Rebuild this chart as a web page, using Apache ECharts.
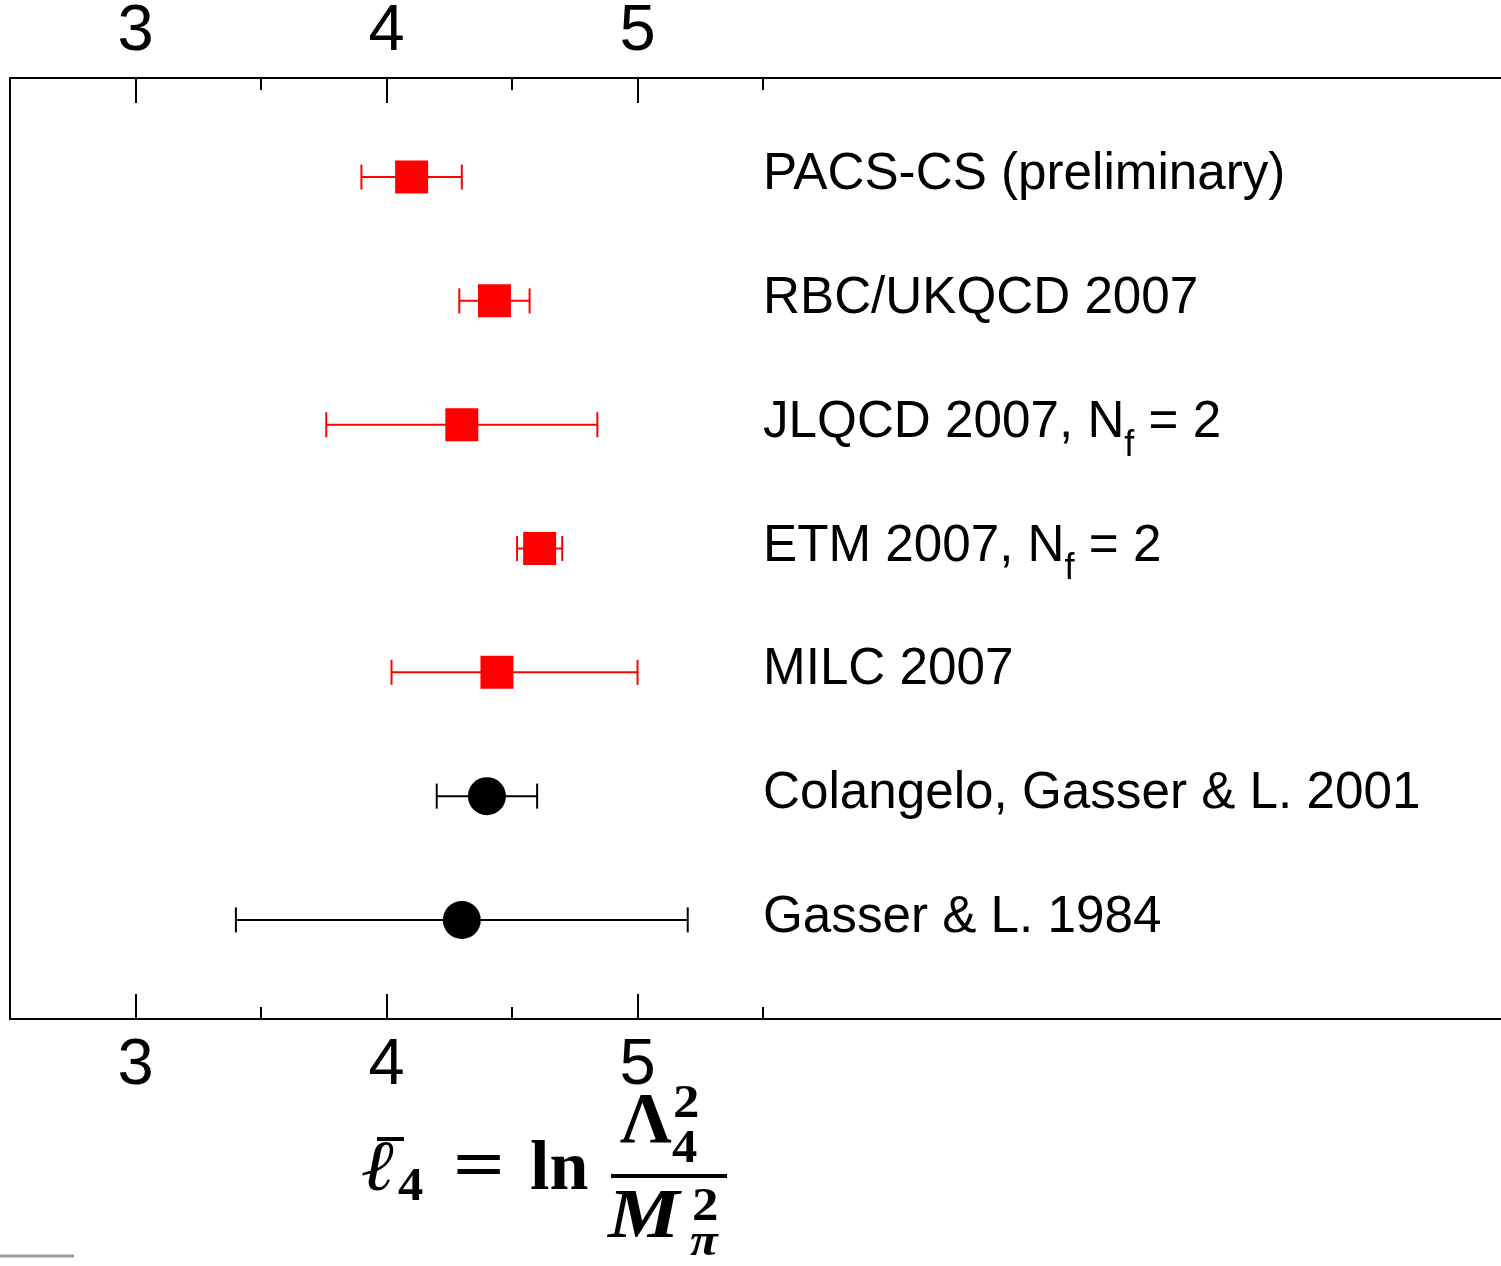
<!DOCTYPE html>
<html>
<head>
<meta charset="utf-8">
<script src="https://cdn.jsdelivr.net/npm/echarts@6/dist/echarts.min.js"></script>
<style>
html,body{margin:0;padding:0;background:#fff;}
#chart{width:1501px;height:1266px;}
</style>
</head>
<body>
<div id="chart"></div>
<script>
// ---- data ----
const labels = [
  'PACS-CS (preliminary)',
  'RBC/UKQCD 2007',
  'JLQCD 2007, N_f = 2',
  'ETM 2007, N_f = 2',
  'MILC 2007',
  'Colangelo, Gasser & L. 2001',
  'Gasser & L. 1984'
];
const centers = [4.10, 4.43, 4.30, 4.61, 4.44, 4.40, 4.30];
const lows    = [3.90, 4.29, 3.76, 4.52, 4.02, 4.20, 3.40];
const highs   = [4.30, 4.57, 4.84, 4.70, 5.00, 4.60, 5.20];
const kinds   = ['lattice', 'lattice', 'lattice', 'lattice', 'lattice', 'pheno', 'pheno'];
const majorTicks = [3, 4, 5];
const minorTicks = [3.5, 4.5, 5.5];
const labelX = 5.5;

const RED = '#ff0000', BLACK = '#000000';
const colorOf = k => k === 'lattice' ? RED : BLACK;

const rows = labels.map((l, i) => [centers[i], i, lows[i], highs[i], kinds[i]]);
const latticePts = rows.filter(r => r[4] === 'lattice').map(r => [r[0], r[1]]);
const phenoPts = rows.filter(r => r[4] === 'pheno').map(r => [r[0], r[1]]);

function richLabel(s) {
  return '{n|' + s.replace(/_(\w)/g, '}{s|$1}{n|') + '}';
}

const chart = echarts.init(document.getElementById('chart'), null, {renderer: 'canvas'});

const tickFont = 'Liberation Sans, Arial, Helvetica, sans-serif';
function xAxis(pos, major) {
  return {
    type: 'value', position: pos, gridIndex: 0,
    min: 2.5, max: 8.44, interval: 0.5,
    axisLine: { show: major, onZero: false, lineStyle: { color: '#000', width: 2 } },
    splitLine: { show: false },
    axisTick: {
      show: true, inside: true, length: major ? 25 : 12,
      customValues: major ? majorTicks : minorTicks,
      lineStyle: { color: '#000', width: 2 }
    },
    axisLabel: {
      show: major, customValues: majorTicks, margin: pos === 'top' ? 13 : 15,
      fontSize: 65, color: '#000', fontFamily: tickFont,
      formatter: v => String(v)
    }
  };
}

const formulaFont = '"Liberation Serif", "Times New Roman", serif';
function ftext(txt, x, y, size, italic, sx) {
  return {
    type: 'text', x: x, y: y, silent: true, scaleX: sx || 1,
    style: {
      text: txt, fill: '#000', align: 'left', verticalAlign: 'middle',
      font: (italic ? 'italic ' : '') + 'bold ' + size + 'px ' + formulaFont
    }
  };
}

const option = {
  backgroundColor: '#fff',
  animation: false,
  grid: { left: 10, top: 78, right: 0, height: 941, containLabel: false },
  xAxis: [xAxis('bottom', true), xAxis('bottom', false), xAxis('top', true), xAxis('top', false)],
  yAxis: {
    type: 'value', min: -0.8, max: 6.8, inverse: true,
    axisLine: { show: true, onZero: false, lineStyle: { color: '#000', width: 2 } },
    axisTick: { show: false }, axisLabel: { show: false }, splitLine: { show: false }
  },
  series: [
    {
      type: 'custom', xAxisIndex: 0, yAxisIndex: 0,
      data: rows,
      renderItem: function (params, api) {
        const y = api.value(1);
        const lo = api.coord([api.value(2), y]);
        const hi = api.coord([api.value(3), y]);
        const col = colorOf(rows[params.dataIndex][4]);
        const cap = 12.5;
        const ls = { stroke: col, lineWidth: 2 };
        return {
          type: 'group',
          children: [
            { type: 'line', shape: { x1: lo[0], y1: lo[1], x2: hi[0], y2: hi[1] }, style: ls },
            { type: 'line', shape: { x1: lo[0], y1: lo[1] - cap, x2: lo[0], y2: lo[1] + cap }, style: ls },
            { type: 'line', shape: { x1: hi[0], y1: hi[1] - cap, x2: hi[0], y2: hi[1] + cap }, style: ls }
          ]
        };
      },
      z: 2
    },
    {
      type: 'scatter', xAxisIndex: 0, yAxisIndex: 0,
      data: latticePts, symbol: 'rect', symbolSize: 33,
      itemStyle: { color: RED, opacity: 1 }, z: 3
    },
    {
      type: 'scatter', xAxisIndex: 0, yAxisIndex: 0,
      data: phenoPts, symbol: 'circle', symbolSize: 38,
      itemStyle: { color: BLACK, opacity: 1 }, z: 3
    },
    {
      type: 'custom', xAxisIndex: 0, yAxisIndex: 0,
      data: labels.map((l, i) => [labelX, i]),
      renderItem: function (params, api) {
        const p = api.coord([api.value(0), api.value(1)]);
        return {
          type: 'text', x: p[0], y: p[1] - 2,
          style: {
            text: richLabel(labels[params.dataIndex]),
            align: 'left', verticalAlign: 'middle',
            rich: {
              n: { fontSize: 51.2, fontFamily: tickFont, color: '#000' },
              s: { fontSize: 36, fontFamily: tickFont, color: '#000', padding: [46, 0, 0, 0] }
            }
          }
        };
      },
      z: 4
    }
  ],
  graphic: [
    ftext('\u2113', 362, 1171, 72, true, 1.1),
    { type: 'line', silent: true, shape: { x1: 377, y1: 1139, x2: 404, y2: 1139 }, style: { stroke: '#000', lineWidth: 4 } },
    ftext('4', 398, 1188, 46, false, 1.1),
    ftext('=', 453, 1170, 70, false, 1.3),
    ftext('ln', 530, 1171, 70, false, 1.0),
    { type: 'line', silent: true, shape: { x1: 611, y1: 1176, x2: 727, y2: 1176 }, style: { stroke: '#000', lineWidth: 4 } },
    ftext('\u039B', 620, 1123, 72, false, 1.0),
    ftext('2', 673, 1105, 46, false, 1.15),
    ftext('4', 672, 1150, 46, false, 1.1),
    ftext('M', 608, 1219, 70, true, 1.15),
    ftext('2', 692, 1208, 46, false, 1.15),
    ftext('\u03C0', 690, 1243, 46, true, 1.1),
    { type: 'line', silent: true, shape: { x1: 0, y1: 1256, x2: 74, y2: 1256 }, style: { stroke: '#999', lineWidth: 3 } }
  ]
};
chart.setOption(option);
</script>
</body>
</html>
